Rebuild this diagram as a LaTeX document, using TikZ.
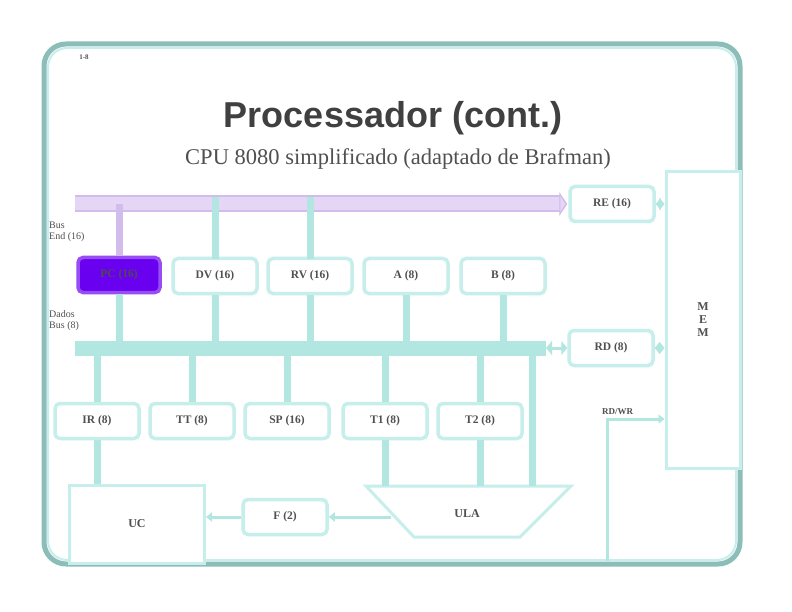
\documentclass[tikz,border=0pt]{standalone}
\usepackage{fontspec}
\setmainfont{Liberation Serif}
\newfontfamily\arialf{Liberation Sans}
\usetikzlibrary{arrows.meta}
\definecolor{framec}{HTML}{8DBDB9}
\definecolor{boxc}{HTML}{C6EEEA}
\definecolor{linkc}{HTML}{B2E6E0}
\definecolor{lavc}{HTML}{E4D6F4}
\definecolor{lavd}{HTML}{D2BCEC}
\definecolor{pcfill}{HTML}{6A00F0}
\definecolor{txtc}{HTML}{505050}
\tikzset{
  reg/.style={draw=boxc, line width=3.5pt, rounded corners=5pt, fill=white,
    minimum width=84pt, minimum height=35pt, inner sep=0pt,
    font=\bfseries\fontsize{11.5}{12}\selectfont, text=txtc},
  plainbox/.style={draw=boxc, line width=3pt, fill=white, inner sep=0pt,
    font=\bfseries\fontsize{12}{13}\selectfont, text=txtc},
  vlink/.style={draw=linkc, line width=7pt},
  bar/.style={draw=linkc, line width=15pt},
  thin/.style={draw=linkc, line width=3pt},
  tip/.style={-{Triangle[width=9pt,length=6pt]}},
  lbl/.style={font=\fontsize{10}{11}\selectfont, text=txtc, align=left, inner sep=0pt}
}
\begin{document}
\begin{tikzpicture}[x=1pt,y=-1pt]
\useasboundingbox (0,0) rectangle (792,612);
\fill[white] (0,0) rectangle (792,612);
% frame
\draw[framec, line width=5pt, rounded corners=22pt] (44,44) rectangle (740,564);
\draw[boxc, line width=2pt, rounded corners=19pt] (48,48) rectangle (736,560);
\node[font=\bfseries\fontsize{7}{8}\selectfont, text=txtc] (pg) at (84,57) {1-8};
% title
\node[font=\arialf\bfseries\fontsize{36}{38}\selectfont, text=black!75] (title) at (393,118) {Processador (cont.)};
\node[font=\fontsize{22.5}{25}\selectfont, text=txtc] (sub) at (398,159) {CPU 8080 simplificado (adaptado de Brafman)};
% memory
\node[plainbox, minimum width=74pt, minimum height=296pt, align=center] (mem) at (703,320) {M\\E\\M};
\node[reg] (re) at (612,204) {RE (16)};
\node[reg] (rd) at (611,348) {RD (8)};
% top row
\node[reg, fill=pcfill, draw=pcfill!70, minimum width=82pt, text=black!70] (pc) at (119,275) {PC (16)};
\node[reg] (dv) at (215,276) {DV (16)};
\node[reg] (rv) at (310,276) {RV (16)};
\node[reg] (ra) at (406,276) {A (8)};
\node[reg] (rb) at (503,276) {B (8)};
% bottom row
\node[reg] (ir) at (97,421) {IR (8)};
\node[reg] (tt) at (192,421) {TT (8)};
\node[reg] (sp) at (287,421) {SP (16)};
\node[reg] (t1) at (385,421) {T1 (8)};
\node[reg] (t2) at (480,421) {T2 (8)};
% UC, F
\node[plainbox, minimum width=135pt, minimum height=78pt] (uc) at (137,524) {UC};
\node[reg] (fl) at (285,517) {F (2)};
% ULA
\coordinate (ulaTL) at (366,486);
\coordinate (ulaTR) at (571,486);
\coordinate (ulaBR) at (520,537);
\coordinate (ulaBL) at (414,537);
\draw[boxc, line width=3pt, fill=white] (ulaTL) -- (ulaTR) -- (ulaBR) -- (ulaBL) -- cycle;
\node[font=\bfseries\fontsize{12}{13}\selectfont, text=txtc] (ula) at (467,514) {ULA};
\coordinate (ulaL) at (391,517);
% buses
\coordinate (abusL) at (75,204);
\coordinate (dbusL) at (75,348);
\coordinate (dbusR) at (546,348);
\draw[lavd, line width=17pt] (abusL) -- ([xshift=-8pt]re.west);
\draw[lavc, line width=13pt] (abusL) -- ([xshift=-8pt]re.west);
\fill[lavd] ([xshift=-9pt,yshift=-12pt]re.west) -- ([xshift=-1pt]re.west) -- ([xshift=-9pt,yshift=12pt]re.west) -- cycle;
\fill[lavc] ([xshift=-8pt,yshift=-8pt]re.west) -- ([xshift=-3pt]re.west) -- ([xshift=-8pt,yshift=8pt]re.west) -- cycle;
\draw[bar] (dbusL) -- (dbusR);
\draw[thin, {Triangle[width=14pt,length=6pt]}-{Triangle[width=14pt,length=6pt]}] (dbusR) -- (rd.west);
\draw[thin, {Triangle[width=12pt,length=5pt]}-{Triangle[width=12pt,length=5pt]}] (rd.east) -- (rd.east -| mem.west);
\draw[thin, {Triangle[width=12pt,length=5pt]}-{Triangle[width=12pt,length=5pt]}] (re.east) -- (re.east -| mem.west);
% top verticals
\draw[lavd, line width=7pt] (pc.north) -- (pc.north |- abusL);
\draw[vlink] ([yshift=-2pt]dv.north) -- ([yshift=7pt]dv.north |- abusL);
\draw[vlink] ([yshift=-2pt]rv.north) -- ([yshift=7pt]rv.north |- abusL);
% to data bus
\foreach \n in {pc,dv,rv,ra,rb}
  \draw[vlink] (\n.south) -- ([yshift=-7pt]\n.south |- dbusL);
\foreach \n in {ir,tt,sp,t1,t2}
  \draw[vlink] (\n.north) -- ([yshift=7pt]\n.north |- dbusL);
% to UC and ULA
\draw[vlink] (ir.south) -- (ir.south |- uc.north);
\draw[vlink] (t1.south) -- (t1.south |- ulaTL);
\draw[vlink] (t2.south) -- (t2.south |- ulaTL);
\coordinate (ulaOut) at (532,486);
\draw[vlink] (ulaOut) -- ([yshift=7pt]ulaOut |- dbusL);
% flags
\draw[thin, tip, color=linkc] (ulaL) -- (fl.east);
\draw[thin, tip, color=linkc] (fl.west) -- (uc.east |- fl.west);
% RD/WR
\coordinate (rwB) at (607,561);
\coordinate (rwC) at (607,419);
\node[font=\bfseries\fontsize{9}{10}\selectfont, text=txtc, anchor=south west, inner sep=1pt] (rwl) at (601,416) {RD/WR};
\draw[thin, tip, color=linkc] (rwB) -- (rwC) -- (rwC -| mem.west);
% bus labels
\node[lbl, anchor=west] (lab1) at (49,232) {Bus\\End (16)};
\node[lbl, anchor=west] (lab2) at (49,321) {Dados\\Bus (8)};
\end{tikzpicture}
\end{document}
